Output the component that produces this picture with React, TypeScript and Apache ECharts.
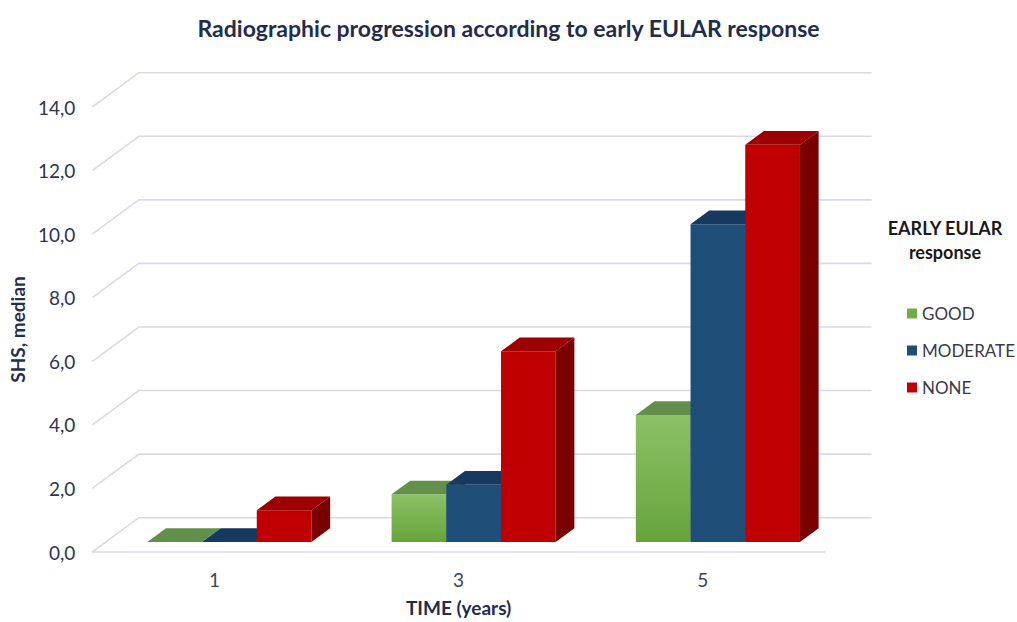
import React, { useEffect, useRef } from "react";
import * as echarts from "echarts";

const categories = ["1", "3", "5"];
const responses = ["GOOD", "MODERATE", "NONE"];
const goodValues = [0.0, 1.5, 4.0];
const moderateValues = [0.0, 1.8, 10.0];
const noneValues = [1.0, 6.0, 12.5];
const yTicks = [0, 2, 4, 6, 8, 10, 12, 14];

const FONT = "Lato, 'Open Sans', sans-serif";
const DX = 46.6;
const DY = -34.3;
const F1 = 0.29;
const FD = 0.4;

const faceColors = [
  {
    front: new echarts.graphic.LinearGradient(0, 0, 0, 1, [
      { offset: 0, color: "#8cc167" },
      { offset: 1, color: "#66a43a" },
    ]),
    top: "#62904a",
    side: "#4d7a2f",
    legend: "#70ad47",
  },
  { front: "#1f4e79", top: "#17395f", side: "#12304f", legend: "#1f4e79" },
  { front: "#c00000", top: "#9c0000", side: "#7a0000", legend: "#c00000" },
];

function makeBarRender(idx: number) {
  return (params: any, api: any) => {
    const cat = api.value(0);
    const val = api.value(1);
    const c = api.coord([cat, val]);
    const c0 = api.coord([cat, 0]);
    const band = api.size([1, 0])[0];
    const barW = band * 0.224;
    const fx = F1 * DX + 1.5;
    const fy = F1 * DY;
    const ddx = FD * DX;
    const ddy = FD * DY;
    const L = c[0] - 1.5 * barW + idx * barW + fx;
    const top = c[1] + fy;
    const bottom = c0[1] + fy;
    const col = faceColors[idx];
    return {
      type: "group",
      children: [
        {
          type: "rect",
          shape: { x: L, y: top, width: barW, height: bottom - top },
          style: { fill: col.front },
        },
        {
          type: "polygon",
          shape: {
            points: [
              [L, top],
              [L + barW, top],
              [L + barW + ddx, top + ddy],
              [L + ddx, top + ddy],
            ],
          },
          style: { fill: col.top },
        },
        {
          type: "polygon",
          shape: {
            points: [
              [L + barW, top],
              [L + barW + ddx, top + ddy],
              [L + barW + ddx, bottom + ddy],
              [L + barW, bottom],
            ],
          },
          style: { fill: col.side },
        },
      ],
    };
  };
}

function gridRender(params: any, api: any) {
  const v = api.value(1);
  const p = api.coord([0, v]);
  const x0 = params.coordSys.x;
  const w = params.coordSys.width;
  const y = p[1];
  return {
    type: "polyline",
    shape: {
      points: [
        [x0, y],
        [x0 + DX, y + DY],
        [x0 + w + DX, y + DY],
      ],
    },
    style: { stroke: "#d9dae6", lineWidth: 1.6, fill: null },
  };
}

export default function App() {
  const ref = useRef<HTMLDivElement>(null);
  useEffect(() => {
    if (!ref.current) return;
    const chart = echarts.init(ref.current, null, { renderer: "svg" });
    const seriesValues = [goodValues, moderateValues, noneValues];
    const legendTitle = (text: string, y: number) => ({
      type: "text",
      x: 945,
      y,
      style: {
        text,
        textAlign: "center",
        textVerticalAlign: "middle",
        fontFamily: FONT,
        fontSize: 18,
        fontWeight: "bold",
        fill: "#1a1a1a",
      },
    });
    chart.setOption({
      animation: false,
      backgroundColor: "#ffffff",
      title: {
        text: "Radiographic progression according to early EULAR response",
        left: "center",
        top: 11,
        textStyle: {
          fontFamily: FONT,
          fontSize: 23,
          fontWeight: "bold",
          color: "#1f2d4d",
        },
      },
      graphic: [legendTitle("EARLY EULAR", 228), legendTitle("response", 252)],
      legend: {
        orient: "vertical",
        left: 902,
        top: 300,
        itemWidth: 10,
        itemHeight: 10,
        itemGap: 20,
        icon: "rect",
        data: responses,
        textStyle: { fontFamily: FONT, fontSize: 17, color: "#3a3a48" },
        selectedMode: false,
      },
      grid: { left: 92, right: 192, top: 107, bottom: 67 },
      xAxis: {
        type: "category",
        data: categories,
        axisTick: { show: false },
        axisLine: { show: true, lineStyle: { color: "#d9dae6", width: 1.6 } },
        axisLabel: {
          margin: 18,
          fontFamily: FONT,
          fontSize: 19,
          color: "#3c4658",
        },
        name: "TIME (years)",
        nameLocation: "middle",
        nameGap: 46,
        nameTextStyle: {
          fontFamily: FONT,
          fontSize: 19,
          fontWeight: "bold",
          color: "#1f2d4d",
        },
      },
      yAxis: {
        type: "value",
        min: 0,
        max: 14,
        interval: 2,
        splitLine: { show: false },
        axisLine: { show: false },
        axisTick: { show: false },
        axisLabel: {
          margin: 17,
          fontFamily: FONT,
          fontSize: 19,
          color: "#2b3550",
          formatter: (v: number) => v.toFixed(1).replace(".", ","),
        },
        name: "SHS, median",
        nameLocation: "middle",
        nameRotate: 90,
        nameGap: 63,
        nameTextStyle: {
          fontFamily: FONT,
          fontSize: 19,
          fontWeight: "bold",
          color: "#1f3050",
        },
      },
      series: [
        {
          type: "custom",
          name: "grid",
          silent: true,
          z: 1,
          renderItem: gridRender,
          data: yTicks.map((t) => [0, t]),
        },
        ...responses.map((r, i) => ({
          type: "custom",
          name: r,
          z: 2 + i,
          itemStyle: { color: faceColors[i].legend },
          renderItem: makeBarRender(i),
          data: seriesValues[i].map((v, ci) => [ci, v]),
        })),
      ],
    });
    return () => chart.dispose();
  }, []);
  return (
    <div
      ref={ref}
      style={{ position: "absolute", left: 0, top: 0, width: 1017, height: 622 }}
    />
  );
}
